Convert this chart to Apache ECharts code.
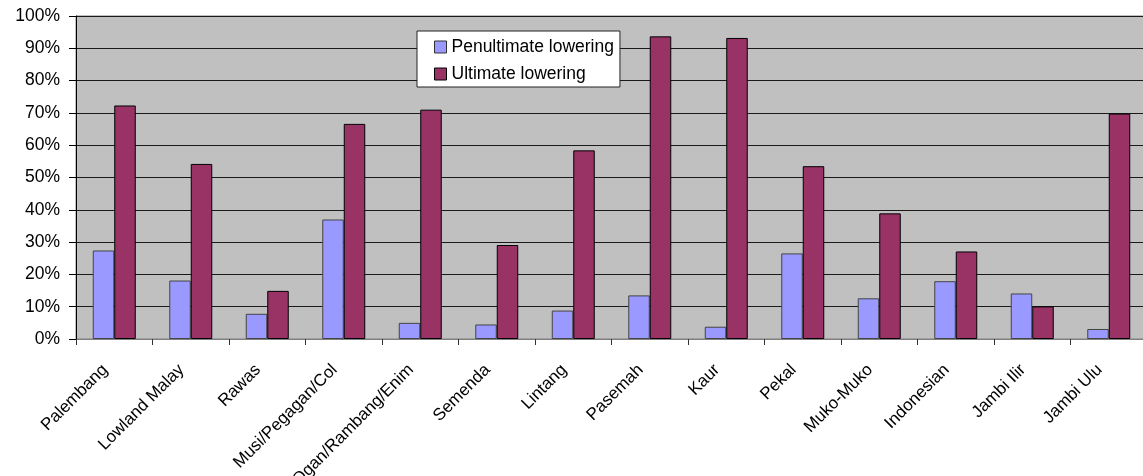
<!DOCTYPE html>
<html>
<head>
<meta charset="utf-8">
<style>
  html, body { margin: 0; padding: 0; background: #fff; }
  #chart { width: 1143px; height: 476px; }
</style>
<script src="https://cdn.jsdelivr.net/npm/echarts@6/dist/echarts.min.js"></script>
</head>
<body>
<div id="chart"></div>
<script>
// Language varieties along the x axis
const categories = [
  'Palembang', 'Lowland Malay', 'Rawas', 'Musi/Pegagan/Col', 'Ogan/Rambang/Enim',
  'Semenda', 'Lintang', 'Pasemah', 'Kaur', 'Pekal', 'Muko-Muko',
  'Indonesian', 'Jambi Ilir', 'Jambi Ulu'
];

// Share of lowering per variety, in percent
const penultimate = [27.4, 18.1, 7.8, 37.0, 5.0, 4.5, 8.8, 13.5, 3.8, 26.5, 12.6, 17.9, 14.1, 3.1];
const ultimate    = [72.3, 54.2, 14.9, 66.6, 71.0, 29.1, 58.4, 93.7, 93.2, 53.5, 38.9, 27.1, 10.1, 69.8];

const seriesNames = ['Penultimate lowering', 'Ultimate lowering'];

const FONT = '"Liberation Sans", Arial, sans-serif';

const chart = echarts.init(document.getElementById('chart'), null, { renderer: 'canvas' });

chart.setOption({
  animation: false,
  textStyle: { fontFamily: FONT },
  grid: {
    left: 76, top: 16, width: 1071, height: 323,
    outerBoundsMode: 'none',
    containLabel: false,
    show: true, backgroundColor: '#C0C0C0', borderColor: '#808080', borderWidth: 1
  },
  legend: {
    orient: 'vertical',
    left: 417, top: 31,
    backgroundColor: '#FFFFFF',
    borderColor: '#222222', borderWidth: 1,
    padding: [7, 6, 4, 17],
    itemGap: 9,
    itemWidth: 12, itemHeight: 12,
    icon: 'rect',
    textStyle: { fontFamily: FONT, fontSize: 17.5, color: '#000' },
    data: [
      { name: seriesNames[0], itemStyle: { color: '#9999FF', borderColor: '#333', borderWidth: 1 } },
      { name: seriesNames[1], itemStyle: { color: '#993366', borderColor: '#000', borderWidth: 1 } }
    ]
  },
  xAxis: {
    type: 'category',
    data: categories,
    axisLine: { lineStyle: { color: '#808080', width: 1 } },
    axisTick: { show: true, length: 6, lineStyle: { color: '#333' } },
    axisLabel: {
      interval: 0, rotate: 45, margin: 19,
      padding: [0, 13, 0, 0],
      fontFamily: FONT, fontSize: 17, color: '#000'
    },
    splitLine: { show: false }
  },
  yAxis: {
    type: 'value',
    min: 0, max: 100, interval: 10,
    axisLine: { show: true, lineStyle: { color: '#000', width: 1 } },
    axisTick: { show: true, length: 7, lineStyle: { color: '#000' } },
    axisLabel: {
      margin: 16, fontFamily: FONT, fontSize: 17.5, color: '#000',
      formatter: v => v + '%'
    },
    splitLine: { show: true, lineStyle: { color: '#1a1a1a', width: 1 } }
  },
  series: [
    {
      name: seriesNames[0], type: 'bar', data: penultimate,
      barWidth: 21.5, barGap: '0%',
      itemStyle: { color: '#9999FF', borderColor: '#444', borderWidth: 1 }
    },
    {
      name: seriesNames[1], type: 'bar', data: ultimate,
      barWidth: 21.5, barGap: '0%',
      itemStyle: { color: '#993366', borderColor: '#000', borderWidth: 1 }
    }
  ]
});
</script>
</body>
</html>
